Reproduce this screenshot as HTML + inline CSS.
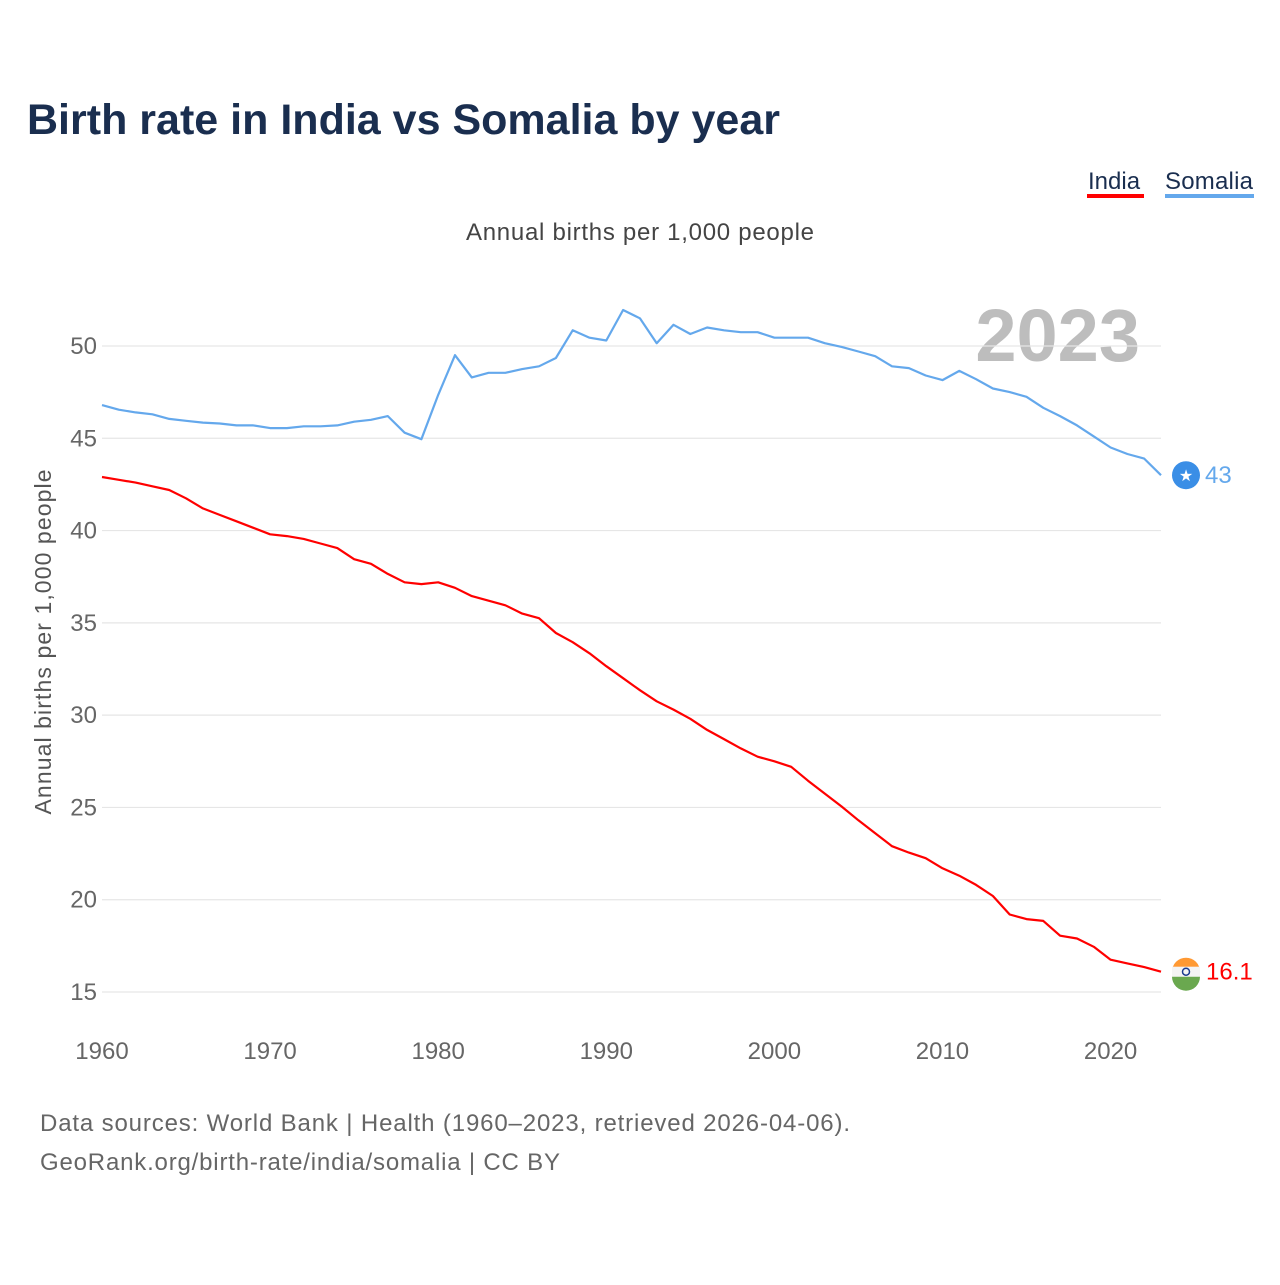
<!DOCTYPE html>
<html><head><meta charset="utf-8"><style>
body{margin:0;background:#fff;width:1280px;height:1280px;overflow:hidden;font-family:"Liberation Sans",sans-serif}
</style></head><body>
<svg id="chart" width="1280" height="1280" xmlns="http://www.w3.org/2000/svg">
<text x="27" y="134" font-size="43" font-weight="bold" fill="#1a2e4f" textLength="753">Birth rate in India vs Somalia by year</text>
<g>
<text x="1088" y="189" font-size="24" fill="#1a2e4f">India</text>
<rect x="1087" y="194" width="57" height="4" fill="#ff0000"/>
<text x="1165" y="189" font-size="24" fill="#1a2e4f" textLength="88">Somalia</text>
<rect x="1165" y="194" width="89" height="4" fill="#64a8ec"/>
</g>
<text x="640" y="240" font-size="24" fill="#444" text-anchor="middle" textLength="348">Annual births per 1,000 people</text>
<text x="1140" y="361" font-size="74" font-weight="bold" fill="#bdbdbd" text-anchor="end">2023</text>
<text transform="translate(51,642) rotate(-90)" font-size="23" fill="#555" text-anchor="middle" textLength="345">Annual births per 1,000 people</text>
<g id="grid"></g><g id="yt"></g><g id="xt"></g><g id="lines"></g>
<text x="40" y="1131" font-size="24" fill="#666" textLength="810">Data sources: World Bank | Health (1960–2023, retrieved 2026-04-06).</text>
<text x="40" y="1170" font-size="24" fill="#666" textLength="520">GeoRank.org/birth-rate/india/somalia | CC BY</text>
</svg>
<script>
const years=[];for(let y=1960;y<=2023;y++)years.push(y);
const somalia=[46.8,46.55,46.4,46.3,46.05,45.95,45.85,45.8,45.7,45.7,45.55,45.55,45.65,45.65,45.7,45.9,46.0,46.2,45.3,44.95,47.35,49.5,48.3,48.55,48.55,48.75,48.9,49.35,50.85,50.45,50.3,51.95,51.5,50.15,51.15,50.65,51.0,50.85,50.75,50.75,50.45,50.45,50.45,50.15,49.95,49.7,49.45,48.9,48.8,48.4,48.15,48.65,48.2,47.7,47.5,47.25,46.65,46.2,45.7,45.1,44.5,44.15,43.9,43.0];
const india=[42.9,42.75,42.6,42.4,42.2,41.75,41.2,40.85,40.5,40.15,39.8,39.7,39.55,39.3,39.05,38.45,38.2,37.65,37.2,37.1,37.2,36.9,36.45,36.2,35.95,35.5,35.25,34.45,33.95,33.35,32.65,32.0,31.35,30.75,30.3,29.8,29.2,28.7,28.2,27.75,27.5,27.2,26.45,25.75,25.05,24.3,23.6,22.9,22.55,22.25,21.7,21.3,20.8,20.2,19.2,18.95,18.85,18.05,17.9,17.45,16.75,16.55,16.35,16.1];
const yTicks=[15,20,25,30,35,40,45,50];
const xTicks=[1960,1970,1980,1990,2000,2010,2020];
const X=v=>102+(v-1960)*(1161-102)/63;
const Y=v=>346+(50-v)*(992-346)/35;
const NS="http://www.w3.org/2000/svg";
function mk(tag,attrs,parent,txt){const e=document.createElementNS(NS,tag);for(const k in attrs)e.setAttribute(k,attrs[k]);if(txt!==undefined)e.textContent=txt;document.getElementById(parent).appendChild(e);return e;}
yTicks.forEach(t=>{
 const l=mk('line',{x1:102,x2:1161,y1:Y(t),y2:Y(t),stroke:'#e6e6e6','stroke-width':1.2},'grid');
 
 
 const tx=mk('text',{x:97,y:Y(t)+8,'font-size':24,fill:'#666','text-anchor':'end'},'yt',String(t));
 
 
});
xTicks.forEach(t=>{
 const tx=mk('text',{x:X(t),y:1059,'font-size':24,fill:'#666','text-anchor':'middle'},'xt',String(t));
 
 
});
function line(data,color,name){
 const d=data.map((v,i)=>(i?'L':'M')+X(years[i]).toFixed(1)+','+Y(v).toFixed(1)).join(' ');
 const p=mk('path',{d:d,fill:'none',stroke:color,'stroke-width':2.2,'stroke-linejoin':'round'},'lines');
 
 
}
line(somalia,'#64a8ec','somalia-line');
line(india,'#ff0000','india-line');
const sl=somalia[somalia.length-1],il=india[india.length-1];
const sc=mk('circle',{cx:1186,cy:Y(sl),r:14,fill:'#3a8ee6'},'lines');


const st=mk('text',{x:1186,y:Y(sl)+6,'font-size':16,fill:'#fff','text-anchor':'middle'},'lines','★');


const sv=mk('text',{x:1205,y:Y(sl)+8,'font-size':24,fill:'#64a8ec'},'lines',String(Math.round(sl*10)/10));


const iy=Y(il);
const f1=mk('path',{d:`M1172,${iy} a14,14 0 0 1 28,0 z`,fill:'#ff9933'},'lines');


const f2=mk('rect',{x:1172,y:iy-5,width:28,height:10,fill:'#f4f4f4'},'lines');


const f3=mk('path',{d:`M1172,${iy+5} a14,14 0 0 0 28,0 z`,fill:'#6aa84f'},'lines');


const f4=mk('circle',{cx:1186,cy:iy,r:3.5,fill:'none',stroke:'#1a3a8f','stroke-width':1.5},'lines');


const iv=mk('text',{x:1206,y:iy+8,'font-size':24,fill:'#ff0000'},'lines',String(il));


</script>
</body></html>
